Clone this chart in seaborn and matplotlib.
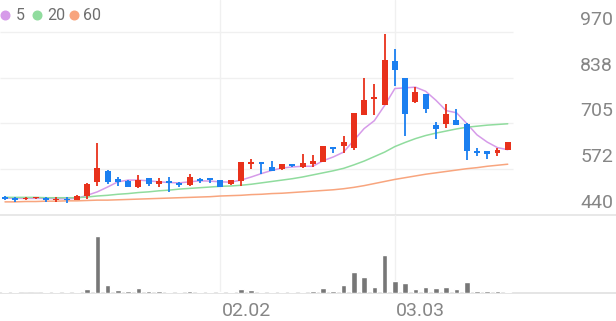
import numpy as np
import pandas as pd
import matplotlib
matplotlib.use("Agg")
import matplotlib.pyplot as plt
from matplotlib.transforms import blended_transform_factory
import seaborn as sns

# ---------------- data ----------------
opens = [493, 490, 485, 488, 490, 483, 487, 484, 495, 536,
         568, 544, 539, 522, 547, 529, 539, 534, 528, 545,
         547, 541, 529, 538, 589, 593, 579, 572, 587, 580,
         587, 594, 637, 640, 633, 730, 777, 757, 885, 836,
         766, 790, 701, 704, 714, 704, 625, 624, 618, 629]
highs = [494, 491, 491, 492, 491, 493, 493, 497, 533, 649,
         570, 550, 540, 555, 548, 547, 549, 535, 560, 546,
         548, 542, 542, 593, 601, 594, 595, 589, 589, 616,
         615, 640, 638, 668, 735, 837, 818, 963, 920, 837,
         809, 791, 709, 762, 747, 705, 635, 625, 635, 652]
lows = [484, 478, 484, 487, 479, 478, 474, 483, 485, 523,
        531, 525, 521, 517, 524, 520, 507, 520, 524, 533,
        533, 521, 528, 524, 572, 560, 567, 571, 578, 576,
        579, 592, 620, 620, 627, 728, 728, 757, 814, 668,
        765, 736, 661, 691, 700, 598, 610, 603, 610, 628]
closes = [486, 483, 490, 491, 483, 487, 484, 495, 531, 576,
          536, 535, 522, 541, 529, 539, 534, 528, 550, 539,
          540, 522, 541, 592, 593, 587, 568, 587, 581, 591,
          595, 639, 630, 651, 734, 774, 782, 889, 860, 733,
          795, 747, 690, 731, 701, 625, 620, 616, 629, 651]
volumes = [1.0, 1.0, 0.5, 0.5, 1.0, 1.0, 1.3, 1.0, 3.7, 57.3,
           8.0, 3.0, 2.0, 4.7, 2.0, 2.3, 1.0, 1.0, 2.0, 1.0,
           0.7, 0.7, 0.7, 4.0, 3.0, 1.5, 1.2, 1.0, 1.0, 1.2,
           2.0, 5.0, 2.0, 8.0, 21.0, 16.0, 6.0, 37.7, 12.3, 10.3,
           4.0, 6.0, 4.7, 6.0, 4.0, 11.0, 2.0, 2.0, 2.0, 0.7]
ma5 = [489, 488, 488, 488, 488, 487, 487, 488, 497, 507,
       521, 536, 541, 541, 539, 536, 534, 533, 536, 539,
       538, 536, 535, 541, 550, 560, 569, 576, 579, 581,
       581, 597, 608, 622, 656, 690, 713, 757, 806, 808,
       810, 798, 772, 742, 736, 705, 672, 651, 635, 629]
ma20 = [491, 491, 491, 491, 490, 490, 490, 490, 492, 495,
        497, 500, 502, 505, 507, 510, 512, 515, 517, 519,
        521, 523, 524, 526, 529, 533, 537, 541, 545, 550,
        556, 562, 568, 575, 585, 596, 609, 622, 638, 650,
        661, 670, 677, 683, 689, 694, 697, 700, 702, 704]
ma60 = [478, 478, 479, 479, 480, 480, 481, 481, 482, 483,
        483, 484, 485, 486, 487, 488, 489, 490, 491, 492,
        493, 495, 496, 497, 499, 500, 502, 503, 505, 507,
        509, 511, 513, 516, 520, 525, 531, 537, 543, 548,
        553, 558, 562, 566, 570, 574, 577, 581, 584, 587]
ma_names = ["5", "20", "60"]
price_ticks = [440, 572.5, 705, 837.5, 970]
price_labels = ["440", "572", "705", "838", "970"]
date_pos = [21, 38]
date_labels = ["02.02", "03.03"]

# ---------------- style ----------------
sns.set_style("white")
plt.rcParams["font.family"] = ["Roboto", "DejaVu Sans"]

UP = "#e8311b"
DOWN = "#1b7ff0"
MA_COLORS = {"5": "#d69be9", "20": "#90dc9e", "60": "#f8a57e"}
GRID = "#f0f0f0"
TXT = "#868686"

W, H = 616, 321
fig = plt.figure(figsize=(W / 100, H / 100), dpi=100)
axp = fig.add_axes([0, (H - 215) / H, 1, 215 / H])
axv = fig.add_axes([0, (H - 293) / H, 1, 78 / H])

n = len(opens)
idx = np.arange(n)
xlim = (-0.487, -0.487 + W / 10.26)

# ---- price panel ----
axp.hlines(price_ticks[1:], xlim[0], 49.55, color=GRID, lw=1.0, zorder=0)
for p in date_pos:
    axp.axvline(p, color=GRID, lw=1.0, zorder=0)
axp.axhline(price_ticks[0], color="#e4e4e4", lw=1.2, clip_on=False, zorder=0)

ma_df = pd.DataFrame({
    "idx": np.concatenate([idx, idx, idx]),
    "val": np.concatenate([ma5, ma20, ma60]),
    "ma": np.repeat(ma_names, n),
})
sns.lineplot(data=ma_df, x="idx", y="val", hue="ma", palette=MA_COLORS,
             legend=False, lw=1.1, ax=axp, zorder=2)

o = np.array(opens, float); c = np.array(closes, float)
hi = np.array(highs, float); lo = np.array(lows, float)
cols = [UP if cc >= oo else DOWN for oo, cc in zip(o, c)]
axp.vlines(idx, lo, hi, colors=cols, lw=1.3, zorder=3)
bottoms = np.minimum(o, c)
heights = np.maximum(np.abs(c - o), 3.5)
axp.bar(idx, heights, bottom=bottoms, width=0.58, color=cols, lw=0, zorder=4)

axp.set_xlim(*xlim)
axp.set_ylim(440, 970 + 32 * 2.8804)
axp.set_axis_off()

tr = blended_transform_factory(axp.transAxes, axp.transData)
for v, lbl in zip(price_ticks, price_labels):
    axp.annotate(lbl, xy=(1, v), xycoords=tr, xytext=(-3, 7),
                 textcoords="offset pixels", ha="right", va="baseline",
                 fontsize=14, color=TXT)

# ---- volume panel ----
sns.barplot(x=idx, y=volumes, native_scale=True, color="#777777",
            saturation=1, width=0.55, errorbar=None, ax=axv, zorder=3)
for p in date_pos:
    axv.axvline(p, color=GRID, lw=1.0, zorder=0)
axv.axhline(0, color="#e0e0e0", lw=1.2, clip_on=False, zorder=1)
axv.set_xlim(*xlim)
axv.set_ylim(0, 78)
axv.set_axis_off()

trv = blended_transform_factory(axv.transData, axv.transAxes)
for p, lbl in zip(date_pos, date_labels):
    axv.annotate(lbl, xy=(p, 0), xycoords=trv, xytext=(1, -23),
                 textcoords="offset pixels", ha="left", va="baseline",
                 fontsize=14, color=TXT)

# ---- legend ----
leg = [(5, 16, "5"), (37, 47, "20"), (74, 83, "60")]
for (dx, tx, name) in leg:
    fig.lines.append(plt.Line2D([dx / W], [1 - 15 / H], transform=fig.transFigure,
                                marker="o", ms=6.2, color=MA_COLORS[name], lw=0))
    fig.text(tx / W, 1 - 20.5 / H, name, ha="left", va="baseline",
             fontsize=11.5, color="#6e6e6e")

fig.savefig("out.png", dpi=100, facecolor="white")
